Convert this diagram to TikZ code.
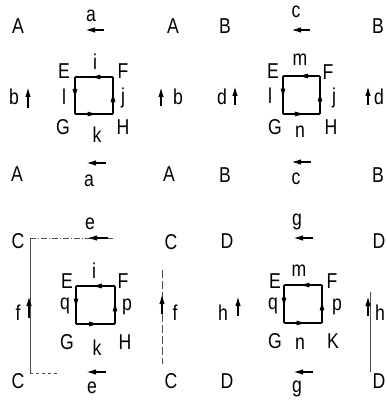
\documentclass[tikz,border=0pt]{standalone}
\usepackage{fontspec}
\setmainfont{Liberation Sans}[FakeStretch=0.82]
\usetikzlibrary{arrows.meta,decorations.markings}
\begin{document}
\begin{tikzpicture}[x=1pt,y=-1pt,
  lbl/.style={font=\fontsize{21.5}{21.5}\selectfont, inner sep=0pt},
  oarrow/.style={line width=1.6pt, -{Latex[length=10pt,width=5.5pt]}},
  sqedge/.style={line width=1.4pt, postaction={decorate},
    decoration={markings, mark=at position 0.62 with {\arrow{Latex[length=11pt,width=5pt]}}}},
  faint/.style={line width=0.5pt, draw=black!70},
  faintdash/.style={faint, dash pattern=on 6pt off 2pt on 1pt off 2pt}]
\useasboundingbox (0,0) rectangle (387,401);

% ---------------- Panel 1 ----------------
\node[lbl] (A1) at (18,26) {A};
\node[lbl] (A2) at (173,26) {A};
\node[lbl] (A3) at (17,174) {A};
\node[lbl] (A4) at (169,174) {A};
\node[lbl] (a1) at (91,16) {a};
\node[lbl] (a2) at (89,181) {a};
\node[lbl] (b1) at (14,97) {b};
\node[lbl] (b2) at (178,97) {b};
\coordinate (a1s) at (104,30); \coordinate (a1e) at (85,30);
\coordinate (a2s) at (106,163); \coordinate (a2e) at (86,163);
\coordinate (b1s) at (28,108); \coordinate (b1e) at (28,87);
\coordinate (b2s) at (161,106); \coordinate (b2e) at (161,87);
\draw[oarrow] (a1s) -- (a1e);
\draw[oarrow] (a2s) -- (a2e);
\draw[oarrow] (b1s) -- (b1e);
\draw[oarrow] (b2s) -- (b2e);
\coordinate (P1E) at (75,77); \coordinate (P1F) at (113,77);
\coordinate (P1G) at (75,114); \coordinate (P1H) at (113,114);
\draw[sqedge] (P1F) -- (P1E);
\draw[sqedge] (P1E) -- (P1G);
\draw[sqedge] (P1G) -- (P1H);
\draw[sqedge] (P1H) -- (P1F);
\node[lbl] (E1) at (64,71) {E};
\node[lbl] (i1) at (95,62) {i};
\node[lbl] (F1) at (123,71) {F};
\node[lbl] (l1) at (64,97) {l};
\node[lbl] (j1) at (123,98) {j};
\node[lbl] (G1) at (63,127) {G};
\node[lbl] (k1) at (97,135) {k};
\node[lbl] (H1) at (123,127) {H};

% ---------------- Panel 2 ----------------
\node[lbl] (B1) at (225,26) {B};
\node[lbl] (B2) at (378,26) {B};
\node[lbl] (B3) at (225,175) {B};
\node[lbl] (B4) at (378,175) {B};
\node[lbl] (c1) at (296,12) {c};
\node[lbl] (c2) at (296,179) {c};
\node[lbl] (d1) at (222,97) {d};
\node[lbl] (d2) at (379,97) {d};
\coordinate (c1s) at (310,30); \coordinate (c1e) at (291,30);
\coordinate (c2s) at (311,162); \coordinate (c2e) at (291,162);
\coordinate (d1s) at (235,105); \coordinate (d1e) at (235,86);
\coordinate (d2s) at (368,105); \coordinate (d2e) at (368,86);
\draw[oarrow] (c1s) -- (c1e);
\draw[oarrow] (c2s) -- (c2e);
\draw[oarrow] (d1s) -- (d1e);
\draw[oarrow] (d2s) -- (d2e);
\coordinate (P2E) at (283,76); \coordinate (P2F) at (320,76);
\coordinate (P2G) at (283,114); \coordinate (P2H) at (320,114);
\draw[sqedge] (P2F) -- (P2E);
\draw[sqedge] (P2E) -- (P2G);
\draw[sqedge] (P2G) -- (P2H);
\draw[sqedge] (P2H) -- (P2F);
\node[lbl] (E2) at (273,71) {E};
\node[lbl] (m2) at (300,60) {m};
\node[lbl] (F2) at (328,72) {F};
\node[lbl] (l2) at (270,96) {l};
\node[lbl] (j2) at (334,98) {j};
\node[lbl] (G2) at (275,127) {G};
\node[lbl] (n2) at (300,132) {n};
\node[lbl] (H2) at (331,127) {H};

% ---------------- Panel 3 ----------------
\node[lbl] (C1) at (18,241) {C};
\node[lbl] (C2) at (171,242) {C};
\node[lbl] (C3) at (18,381) {C};
\node[lbl] (C4) at (171,381) {C};
\node[lbl] (e1) at (90,224) {e};
\node[lbl] (e2) at (92,388) {e};
\node[lbl] (f1) at (18,313) {f};
\node[lbl] (f2) at (175,313) {f};
\coordinate (Lt1) at (30,238); \coordinate (Lt2) at (113,238);
\coordinate (Lb1) at (30,373); \coordinate (Lb2) at (58,373);
\coordinate (Lr1) at (162,270); \coordinate (Lr2) at (162,364);
\draw[faintdash] (Lt2) -- (Lt1);
\draw[faint] (Lt1) -- (Lb1);
\draw[faint, dashed] (Lb1) -- (Lb2);
\draw[faint, dash pattern=on 8pt off 3pt] (Lr1) -- (Lr2);
\coordinate (e1s) at (108,238); \coordinate (e1e) at (87,238);
\coordinate (e2s) at (106,372); \coordinate (e2e) at (86,372);
\coordinate (f1s) at (29,318); \coordinate (f1e) at (29,296);
\coordinate (f2s) at (162,314); \coordinate (f2e) at (162,294);
\draw[oarrow] (e1s) -- (e1e);
\draw[oarrow] (e2s) -- (e2e);
\draw[oarrow] (f1s) -- (f1e);
\draw[oarrow] (f2s) -- (f2e);
\coordinate (P3E) at (76,286); \coordinate (P3F) at (115,286);
\coordinate (P3G) at (76,324); \coordinate (P3H) at (115,324);
\draw[sqedge] (P3F) -- (P3E);
\draw[sqedge] (P3E) -- (P3G);
\draw[sqedge] (P3G) -- (P3H);
\draw[sqedge] (P3H) -- (P3F);
\node[lbl] (E3) at (67,281) {E};
\node[lbl] (i3) at (94,271) {i};
\node[lbl] (F3) at (123,281) {F};
\node[lbl] (q3) at (65,306) {q};
\node[lbl] (p3) at (127,307) {p};
\node[lbl] (G3) at (67,342) {G};
\node[lbl] (k3) at (97,348) {k};
\node[lbl] (H3) at (125,342) {H};

% ---------------- Panel 4 ----------------
\node[lbl] (D1) at (227,241) {D};
\node[lbl] (D2) at (379,241) {D};
\node[lbl] (D3) at (227,381) {D};
\node[lbl] (D4) at (379,381) {D};
\node[lbl] (g1) at (297,222) {g};
\node[lbl] (g2) at (297,389) {g};
\node[lbl] (h1) at (223,313) {h};
\node[lbl] (h2) at (380,313) {h};
\coordinate (Vr1) at (370,292); \coordinate (Vr2) at (370,372);
\draw[faint] (Vr1) -- (Vr2);
\coordinate (g1s) at (313,238); \coordinate (g1e) at (293,238);
\coordinate (g2s) at (313,372); \coordinate (g2e) at (293,372);
\coordinate (h1s) at (238,316); \coordinate (h1e) at (238,296);
\coordinate (h2s) at (368,316); \coordinate (h2e) at (368,296);
\draw[oarrow] (g1s) -- (g1e);
\draw[oarrow] (g2s) -- (g2e);
\draw[oarrow] (h1s) -- (h1e);
\draw[oarrow] (h2s) -- (h2e);
\coordinate (P4E) at (284,285); \coordinate (P4F) at (322,285);
\coordinate (P4G) at (284,323); \coordinate (P4H) at (322,323);
\draw[sqedge] (P4F) -- (P4E);
\draw[sqedge] (P4E) -- (P4G);
\draw[sqedge] (P4G) -- (P4H);
\draw[sqedge] (P4H) -- (P4F);
\node[lbl] (E4) at (275,281) {E};
\node[lbl] (m4) at (299,271) {m};
\node[lbl] (F4) at (332,281) {F};
\node[lbl] (q4) at (273,306) {q};
\node[lbl] (p4) at (337,307) {p};
\node[lbl] (G4) at (275,341) {G};
\node[lbl] (n4) at (300,344) {n};
\node[lbl] (K4) at (333,341) {K};
\end{tikzpicture}
\end{document}
